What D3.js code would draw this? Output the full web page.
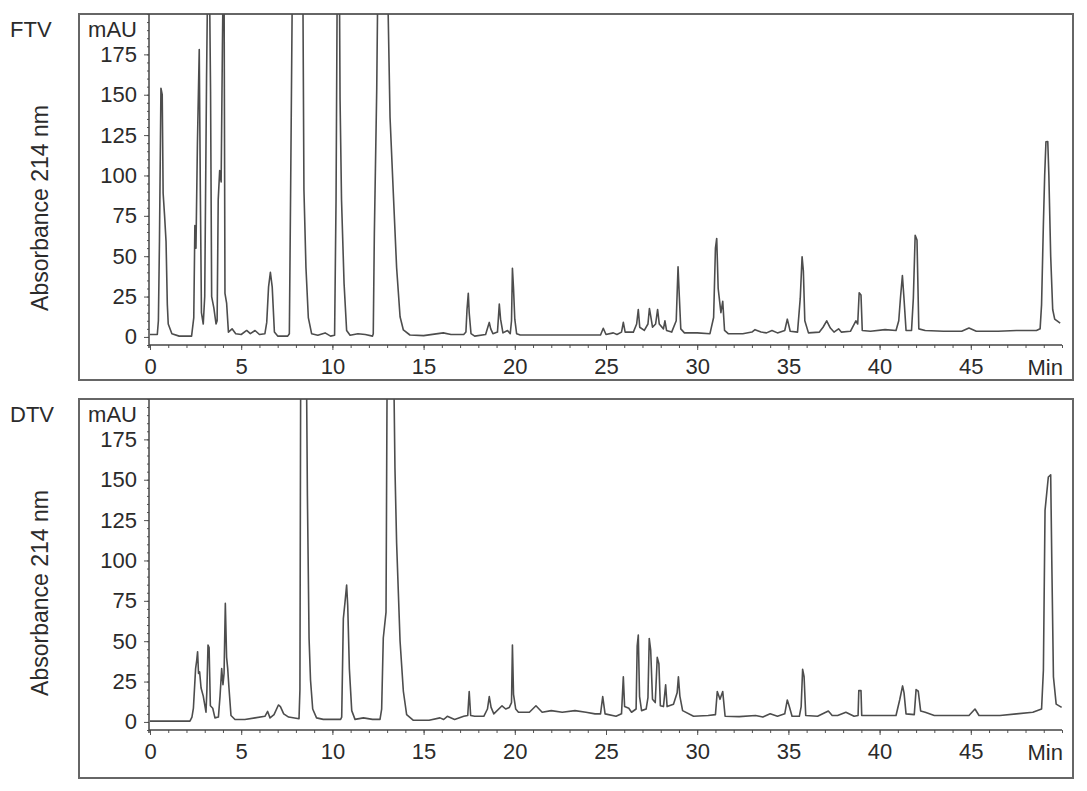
<!DOCTYPE html>
<html lang="en">
<head>
<meta charset="utf-8">
<title>FTV / DTV chromatograms</title>
<script src="https://cdn.jsdelivr.net/npm/d3@7"></script>
<style>
  html, body { margin: 0; padding: 0; background: #fff; overflow: hidden; }
  text { font-family: "Liberation Sans", Arial, sans-serif; fill: #2b2b2b; }
</style>
</head>
<body>
<div id="chart"></div>
<script>
// retention time (min) / absorbance (mAU); peaks above 200 are cut by the frame
var ftvTrace = [[0,1.5],[0.4,1.5],[0.46,10],[0.52,60],[0.6,154],[0.67,150],[0.72,89],[0.8,75],[0.88,59],[0.95,20],[1.0,8],[1.2,2],[1.6,0.5],[2.28,0.5],[2.4,12],[2.46,69],[2.52,55],[2.6,120],[2.7,178],[2.76,90],[2.82,15],[2.92,8],[3.0,25],[3.1,160],[3.2,260],[3.27,210],[3.32,152],[3.38,25],[3.5,18],[3.62,8],[3.68,10],[3.74,85],[3.82,103],[3.9,96],[3.97,180],[4.05,260],[4.11,27],[4.2,21],[4.3,3],[4.5,5],[4.7,2],[5.0,1.5],[5.3,4],[5.5,2],[5.76,4],[6.0,1.5],[6.3,2],[6.4,9],[6.5,31],[6.6,40],[6.7,31],[6.82,3],[7.0,0.5],[7.55,0.5],[7.64,2],[7.71,91],[7.82,240],[8.1,520],[8.37,240],[8.44,91],[8.55,43],[8.68,12],[8.86,2],[9.2,1],[9.6,2.5],[9.9,0.5],[10.12,1],[10.2,85],[10.27,230],[10.33,290],[10.38,230],[10.42,147],[10.5,85],[10.64,33],[10.78,4],[10.97,1],[11.4,2],[11.8,1.5],[12.2,0.5],[12.24,2],[12.3,64],[12.43,153],[12.5,230],[12.75,360],[13.01,230],[13.16,136],[13.34,89],[13.52,43],[13.71,12.5],[13.89,4.3],[14.25,1.2],[15.0,0.8],[16.08,2.5],[16.5,1.5],[17.2,1.5],[17.32,3],[17.38,17],[17.45,27],[17.5,15],[17.6,2],[17.8,0.5],[18.4,1.5],[18.52,6],[18.6,9],[18.68,5],[18.8,2],[19.05,3],[19.15,20.4],[19.22,11],[19.35,2.5],[19.6,4],[19.75,2],[19.82,10],[19.87,42.5],[19.93,30],[20.0,11],[20.1,2],[20.3,1.2],[24.7,1.2],[24.85,5.4],[25.0,1.5],[25.4,2.5],[25.6,1.5],[25.85,3],[25.95,9],[26.05,3],[26.5,3],[26.68,8],[26.77,17],[26.85,6],[27.1,4],[27.3,8],[27.38,17.6],[27.45,13],[27.55,6],[27.72,8],[27.83,17],[27.92,8],[28.15,5],[28.23,10],[28.32,4],[28.6,3],[28.85,10],[28.95,43.5],[29.02,25],[29.1,5],[29.3,2.5],[30.0,2.5],[30.7,2],[30.9,12],[31.0,55],[31.07,61],[31.15,30],[31.3,15],[31.4,22],[31.5,4],[31.7,2],[32.5,2],[33.0,3],[33.17,4.5],[33.5,3],[33.8,2.5],[34.1,4],[34.4,2.5],[34.8,4],[34.94,11],[35.1,3.5],[35.5,3],[35.65,24],[35.75,49.7],[35.82,41],[35.9,10],[36.1,2.5],[36.7,3],[36.9,6],[37.1,10],[37.3,5.5],[37.5,3],[37.75,5],[37.9,3],[38.4,3.5],[38.7,10],[38.8,8],[38.88,27.4],[38.98,26],[39.05,4],[39.5,3.5],[40.3,4.5],[40.9,4],[41.05,10],[41.15,25],[41.25,38],[41.33,25],[41.45,4],[41.75,4],[41.85,24],[41.95,63],[42.05,60],[42.15,5],[42.5,4],[43.5,3.5],[44.5,3.5],[44.9,5.5],[45.3,3.5],[46.5,3.5],[47.5,4],[48.6,4],[48.8,5],[48.88,20],[48.98,70],[49.05,100],[49.12,120.8],[49.22,121],[49.28,100],[49.38,50],[49.49,17],[49.6,11],[49.9,8.5]];

var dtvTrace = [[0,0.5],[2.19,0.5],[2.3,3],[2.38,8.5],[2.5,33],[2.56,38],[2.61,43.5],[2.66,30],[2.72,31],[2.8,21],[2.92,16],[3.07,6],[3.12,20],[3.18,47.6],[3.24,46],[3.31,10],[3.44,8.5],[3.56,2.5],[3.75,3],[3.84,16],[3.93,33],[4.0,23],[4.06,30],[4.13,73.4],[4.2,40],[4.26,33],[4.33,21],[4.44,4],[4.66,1.5],[5.2,1.5],[5.76,2.5],[6.3,3.5],[6.45,6.5],[6.58,2.5],[6.8,4.5],[7.04,10.5],[7.15,9.5],[7.33,5],[7.6,3],[8.17,2],[8.22,20],[8.27,260],[8.4,520],[8.55,260],[8.63,140],[8.72,52],[8.8,26],[8.92,8],[9.13,2.5],[9.5,1.6],[10.0,1.6],[10.45,1.6],[10.51,3],[10.6,64],[10.69,74],[10.78,84.7],[10.84,72],[10.93,33],[11.06,7],[11.24,1.6],[11.7,2.5],[12.2,1.6],[12.61,1.6],[12.7,8],[12.79,52],[12.94,68],[13.01,240],[13.15,420],[13.34,240],[13.43,157],[13.52,111],[13.71,50],[13.89,19],[14.07,4.5],[14.44,1],[15.3,1],[15.9,2.5],[16.1,1.5],[16.3,3.5],[16.7,1.5],[17.2,3.5],[17.42,4],[17.5,18.8],[17.58,4],[17.8,3.5],[18.3,3.5],[18.5,8],[18.6,15.7],[18.7,9],[18.85,5],[19.3,10],[19.5,8],[19.7,9],[19.82,12],[19.87,47.6],[19.93,17],[20.05,8],[20.2,6],[20.8,6],[21.16,10],[21.5,6],[22.0,7],[22.6,6],[23.3,7],[23.9,6],[24.4,5],[24.7,5],[24.82,15.7],[24.95,5],[25.55,3.5],[25.85,5],[25.95,28],[26.02,9.5],[26.25,8.5],[26.4,6],[26.65,8],[26.71,47],[26.77,53.8],[26.84,15.7],[26.95,7],[27.2,8],[27.3,15],[27.37,51.7],[27.45,44.5],[27.55,14],[27.7,12],[27.81,40],[27.9,36],[27.98,10],[28.15,9.5],[28.27,23],[28.35,9.5],[28.7,11],[28.9,18],[28.97,28],[29.05,16],[29.2,7],[29.8,3.5],[30.6,4],[31.0,4.5],[31.1,18.8],[31.25,14],[31.4,18.8],[31.53,3.5],[32.3,3.3],[33.2,4],[33.6,3],[34.0,5],[34.4,3.5],[34.8,5],[34.94,13.6],[35.05,9.5],[35.2,3.5],[35.6,3.5],[35.7,9.5],[35.78,32.6],[35.86,28],[35.95,4],[36.6,3.5],[37.19,6.8],[37.4,4],[37.7,4],[38.15,6],[38.6,3.5],[38.82,4],[38.86,19.4],[38.98,19.4],[39.02,4],[40.9,4],[41.1,13.6],[41.26,22.3],[41.34,18],[41.45,5],[41.9,4.5],[42.0,20],[42.12,19],[42.25,6.8],[42.5,6],[43.0,4],[44.9,4],[45.23,8],[45.45,4],[46.6,4],[47.5,5],[48.4,6],[48.88,8],[48.98,32],[49.07,131],[49.25,151.7],[49.38,153],[49.44,100],[49.53,28],[49.68,11],[49.98,9]];

var panelNames = ["FTV", "DTV"];
var yTickLabels = [0, 25, 50, 75, 100, 125, 150, 175];
var xTickLabels = [0, 5, 10, 15, 20, 25, 30, 35, 40, 45];
var yLabel = "Absorbance 214 nm";
var yUnit = "mAU";
var xUnit = "Min";

var W = 1087, H = 791;
var frameLeft = 79, frameRight = 1073;
var plotLeft = 150, plotRight = 1062;
var panels = [
  {name: panelNames[0], data: ftvTrace, top: 14, axisY: 345, bottom: 380},
  {name: panelNames[1], data: dtvTrace, top: 399, axisY: 730, bottom: 778}
];

var svg = d3.select("#chart").append("svg")
  .attr("width", W)
  .attr("height", H);

var x = d3.scaleLinear().domain([0, 50]).range([plotLeft, plotRight]);

panels.forEach(function(p, i) {
  var y = d3.scaleLinear().domain([-5, 200]).range([p.axisY, p.top]);
  var g = svg.append("g");

  // frame
  g.append("rect")
    .attr("x", frameLeft).attr("y", p.top)
    .attr("width", frameRight - frameLeft).attr("height", p.bottom - p.top)
    .attr("fill", "#fff")
    .attr("stroke", "#666")
    .attr("stroke-width", 2);

  // clip so off-scale peaks stop at the frame
  svg.append("clipPath").attr("id", "clip" + i)
    .append("rect")
    .attr("x", plotLeft - 1).attr("y", p.top)
    .attr("width", plotRight - plotLeft + 2).attr("height", p.axisY - p.top);

  var line = d3.line()
    .x(function(d) { return x(d[0]); })
    .y(function(d) { return y(d[1]); });

  g.append("path")
    .datum(p.data)
    .attr("clip-path", "url(#clip" + i + ")")
    .attr("d", line)
    .attr("fill", "none")
    .attr("stroke", "#4d4d4d")
    .attr("stroke-width", 1.6)
    .attr("stroke-linejoin", "round");

  // y axis: minor + major ticks
  g.append("g")
    .attr("transform", "translate(" + (plotLeft - 1) + ",0)")
    .call(d3.axisLeft(y).tickValues(d3.range(-5, 201, 5)).tickSize(2).tickFormat(""))
    .call(function(a) { a.select(".domain").remove(); })
    .selectAll("line").attr("stroke", "#555");

  var yAxis = g.append("g")
    .attr("transform", "translate(" + (plotLeft - 1) + ",0)")
    .call(d3.axisLeft(y).tickValues(yTickLabels).tickSize(5).tickPadding(7).tickSizeOuter(0));
  yAxis.select(".domain").remove();
  yAxis.selectAll("line").attr("stroke", "#555");
  yAxis.selectAll("text").attr("font-size", 22).style("font-family", "Liberation Sans, Arial, sans-serif");

  g.append("line")
    .attr("x1", plotLeft - 1).attr("x2", plotLeft - 1)
    .attr("y1", p.top).attr("y2", p.axisY + 3)
    .attr("stroke", "#444").attr("stroke-width", 1.5);

  // x axis: minor + major ticks
  g.append("g")
    .attr("transform", "translate(0," + p.axisY + ")")
    .call(d3.axisBottom(x).tickValues(d3.range(0, 51, 1)).tickSize(3).tickFormat(""))
    .call(function(a) { a.select(".domain").remove(); })
    .selectAll("line").attr("stroke", "#555");

  var xAxis = g.append("g")
    .attr("transform", "translate(0," + p.axisY + ")")
    .call(d3.axisBottom(x).tickValues(xTickLabels).tickSize(5).tickPadding(8).tickSizeOuter(0));
  xAxis.select(".domain").remove();
  xAxis.selectAll("line").attr("stroke", "#555");
  xAxis.selectAll("text").attr("font-size", 22).style("font-family", "Liberation Sans, Arial, sans-serif");

  g.append("line")
    .attr("x1", plotLeft - 1).attr("x2", plotRight)
    .attr("y1", p.axisY).attr("y2", p.axisY)
    .attr("stroke", "#444").attr("stroke-width", 1.5);

  g.append("text")
    .attr("x", plotRight + 1).attr("y", p.axisY + 30)
    .attr("text-anchor", "end")
    .attr("font-size", 22)
    .text(xUnit);

  g.append("text")
    .attr("x", 137).attr("y", p.top + 23)
    .attr("text-anchor", "end")
    .attr("font-size", 22)
    .text(yUnit);

  g.append("text")
    .attr("x", 10).attr("y", p.top + 23)
    .attr("font-size", 22)
    .text(p.name);

  g.append("text")
    .attr("transform", "translate(48," + (p.top + 194) + ") rotate(-90)")
    .attr("text-anchor", "middle")
    .attr("font-size", 23)
    .text(yLabel);
});
</script>
</body>
</html>
